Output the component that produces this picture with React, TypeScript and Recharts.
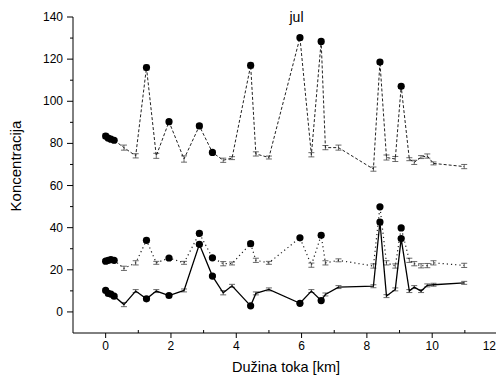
import React from 'react';
import { ComposedChart, Line, XAxis, YAxis, ErrorBar } from 'recharts';

// distance along the stream (km), shared by all three profiles
const km = [0, 0.08, 0.16, 0.26, 0.56, 0.92, 1.25, 1.55, 1.94, 2.4, 2.87, 3.27, 3.6, 3.87, 4.44, 4.6, 5.0, 5.95, 6.3, 6.6, 6.73, 7.13, 8.2, 8.4, 8.6, 8.87, 9.05, 9.3, 9.45, 9.66, 9.85, 10.04, 10.98];

// sampling sites drawn with a filled circle
const siteKm = [0, 0.08, 0.16, 0.26, 1.25, 1.94, 2.87, 3.27, 4.44, 5.95, 6.6, 8.4, 9.05];

const topVals = [83.5, 82.5, 82, 81.5, 78, 74.1, 116, 74.1, 90.3, 72.6, 88.3, 75.7, 72, 73, 117, 75, 73.3, 130.2, 74.6, 128.4, 78, 78, 67.8, 118.6, 73.3, 72.6, 107.1, 72.5, 71, 73.5, 74, 70.5, 69];
const topErr = [1.2, 0.7, 0.7, 0.7, 1.2, 1, 1.2, 1.2, 1, 1.5, 1, 0.7, 1, 0.7, 1.2, 1, 0.7, 1, 1, 1, 1, 1.2, 1, 1, 1.2, 1.2, 1, 0.7, 1, 0.7, 1, 0.7, 1];

const midVals = [24.1, 24.5, 24.8, 24.5, 20.7, 23.3, 34, 23.3, 25.6, 23.3, 37.3, 25.7, 22.9, 23, 32.4, 24.5, 23.3, 35.2, 22.2, 36.4, 23.3, 24.5, 21.8, 49.9, 23.3, 21.8, 39.9, 24.5, 22.9, 21.9, 22, 23.3, 22.1];
const midErr = [0.7, 0.7, 0.7, 0.7, 1, 1, 1, 0.7, 0.7, 0.7, 1, 0.7, 1, 0.7, 1, 1, 0.7, 0.7, 1, 1, 1, 0.7, 1, 0.7, 1, 1, 0.7, 1, 1, 1, 1, 1, 1];

const lowVals = [10.2, 8.8, 8.5, 7.5, 3.5, 9.9, 6.2, 9.9, 7.8, 10.2, 32.1, 17, 9.1, 12.4, 2.9, 8.8, 10.7, 4.1, 9.9, 5.4, 8.3, 11.8, 12.2, 42.7, 7.5, 10.7, 34.8, 9.9, 11.8, 9.9, 12.6, 12.9, 13.8];
const lowErr = [0.7, 0.7, 0.7, 0.7, 1, 0.7, 0.7, 0.7, 0.7, 0.7, 1, 0.7, 1, 0.7, 0.7, 0.7, 0.7, 0.7, 0.7, 0.7, 0.7, 0.7, 0.7, 1, 0.7, 0.7, 1, 0.7, 0.7, 0.7, 0.7, 0.7, 0.7];

const xTicks = [0, 1, 2, 3, 4, 5, 6, 7, 8, 9, 10, 11, 12];
const yTicks = [0, 10, 20, 30, 40, 50, 60, 70, 80, 90, 100, 110, 120, 130, 140];

const FONT = '"Liberation Sans", Arial, sans-serif';

const rows = (vals: number[], errs: number[]) => km.map((k, i) => ({ km: k, v: vals[i], e: errs[i] }));

const topData = rows(topVals, topErr);
const midData = rows(midVals, midErr);
const lowData = rows(lowVals, lowErr);

function siteDot(p: any) {
  if (!siteKm.includes(p.payload.km)) return <g key={p.index} />;
  return <circle key={p.index} cx={p.cx} cy={p.cy} r={3.6} fill="#000" />;
}

function XTick({ x, y, payload }: any) {
  const major = payload.value % 2 === 0;
  // last label would run past the visible edge, so pin its right side
  const last = payload.value === xTicks[xTicks.length - 1];
  return (
    <g>
      <line x1={x} x2={x} y1={y} y2={major ? y + 5 : y - 3} stroke="#000" />
      {major && (
        <text
          x={last ? Math.min(x + 6.5, 496) : x}
          y={y + 17}
          textAnchor={last ? 'end' : 'middle'}
          fontSize={12}
          fontFamily={FONT}
          fill="#000"
        >
          {payload.value}
        </text>
      )}
    </g>
  );
}

function YTick({ x, y, payload }: any) {
  const major = payload.value % 20 === 0;
  return (
    <g>
      <line x1={x} x2={major ? x - 6 : x - 3} y1={y} y2={y} stroke="#000" />
      {major && (
        <text x={x - 10} y={y + 4} textAnchor="end" fontSize={12} fontFamily={FONT} fill="#000">
          {payload.value}
        </text>
      )}
    </g>
  );
}

export default function App() {
  // negative margin cancels the body margin so the chart fills the whole window
  return (
    <div style={{ position: 'relative', margin: -8, width: 504, height: 383, background: '#fff' }}>
      <ComposedChart width={504} height={383} margin={{ top: 17, right: 6.5, left: 0, bottom: 0 }}>
        <XAxis
          dataKey="km"
          type="number"
          domain={[-1, 12]}
          ticks={xTicks}
          interval={0}
          allowDataOverflow
          height={50}
          tickSize={0}
          tickMargin={0}
          tickLine={false}
          axisLine={{ stroke: '#000' }}
          tick={<XTick />}
        />
        <YAxis
          type="number"
          domain={[-10, 140]}
          ticks={yTicks}
          interval={0}
          allowDataOverflow
          width={73}
          tickSize={0}
          tickMargin={0}
          tickLine={false}
          axisLine={{ stroke: '#000' }}
          tick={<YTick />}
        />
        <Line
          data={topData}
          dataKey="v"
          type="linear"
          stroke="#222"
          strokeWidth={1}
          strokeDasharray="3 2"
          dot={siteDot}
          activeDot={false}
          isAnimationActive={false}
        >
          <ErrorBar dataKey="e" width={3} stroke="#444" strokeWidth={0.8} direction="y" isAnimationActive={false} />
        </Line>
        <Line
          data={midData}
          dataKey="v"
          type="linear"
          stroke="#222"
          strokeWidth={1.2}
          strokeDasharray="1.2 3"
          dot={siteDot}
          activeDot={false}
          isAnimationActive={false}
        >
          <ErrorBar dataKey="e" width={3} stroke="#444" strokeWidth={0.8} direction="y" isAnimationActive={false} />
        </Line>
        <Line
          data={lowData}
          dataKey="v"
          type="linear"
          stroke="#000"
          strokeWidth={1.3}
          dot={siteDot}
          activeDot={false}
          isAnimationActive={false}
        >
          <ErrorBar dataKey="e" width={3} stroke="#444" strokeWidth={0.8} direction="y" isAnimationActive={false} />
        </Line>
      </ComposedChart>
      <svg width={504} height={383} style={{ position: 'absolute', left: 0, top: 0, pointerEvents: 'none' }}>
        <text x={296.5} y={22} textAnchor="middle" fontSize={14} fontFamily={FONT} fill="#000">jul</text>
        <text
          x={21}
          y={166}
          textAnchor="middle"
          fontSize={15}
          fontFamily={FONT}
          fill="#000"
          transform="rotate(-90 21 166)"
        >
          Koncentracija
        </text>
        <text x={286} y={371.5} textAnchor="middle" fontSize={14.5} fontFamily={FONT} fill="#000">Dužina toka [km]</text>
      </svg>
    </div>
  );
}
